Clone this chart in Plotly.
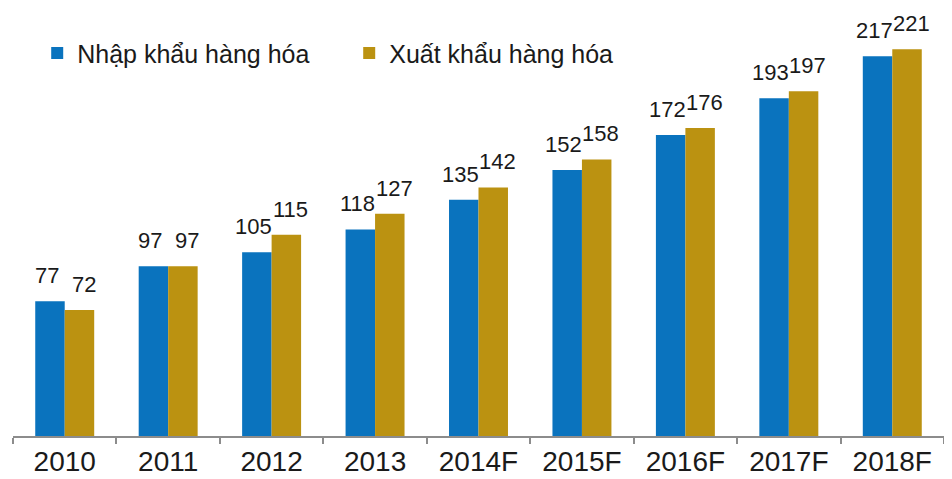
import plotly.graph_objects as go

categories = ["2010", "2011", "2012", "2013", "2014F", "2015F", "2016F", "2017F", "2018F"]
imports = [77, 97, 105, 118, 135, 152, 172, 193, 217]
exports = [72, 97, 115, 127, 142, 158, 176, 197, 221]
series_names = ["Nhập khẩu hàng hóa", "Xuất khẩu hàng hóa"]

FONT = "Liberation Sans, Arial, sans-serif"
BLUE = "#0a73be"
GOLD = "#bb9211"
TXT = "#1a1a1a"

fig = go.Figure()
for name, vals, col in [(series_names[0], imports, BLUE), (series_names[1], exports, GOLD)]:
    fig.add_trace(go.Bar(
        x=categories, y=vals, name=name, marker_color=col, marker_line_width=0,
    ))

# value labels (positioned at category index, shifted onto each bar of the group)
for vals, shift in [(imports, -18), (exports, 19)]:
    for i, v in enumerate(vals):
        fig.add_annotation(x=i, y=v, xref="x", yref="y", text=str(v), showarrow=False,
                           xanchor="center", yanchor="bottom", xshift=shift, yshift=11,
                           font=dict(size=22, family=FONT, color=TXT))

fig.update_layout(
    width=944, height=471,
    margin=dict(l=5, r=8, t=12, b=43, autoexpand=False),
    paper_bgcolor="white", plot_bgcolor="white",
    barmode="group", bargap=0.43, bargroupgap=0,
    font=dict(family=FONT, color=TXT),
    showlegend=True,
    legend=dict(orientation="h", x=0.026, y=0.92, xanchor="left", yanchor="middle",
                font=dict(size=25, family=FONT, color=TXT),
                bgcolor="rgba(0,0,0,0)", itemwidth=30,
                entrywidth=267, entrywidthmode="pixels"),
    xaxis=dict(type="category", categoryorder="array", categoryarray=categories,
               range=[-0.5, len(categories) - 0.5],
               showline=True, linecolor="#8c8c8c", linewidth=1.5,
               automargin=False, tickangle=0,
               ticks="outside", tickson="boundaries", ticklen=6, tickcolor="#8c8c8c",
               tickwidth=1.5, tickfont=dict(size=28, family=FONT, color=TXT),
               showgrid=False, zeroline=False),
    yaxis=dict(visible=False, range=[0, 237.7], showgrid=False, zeroline=False, automargin=False),
)

fig.write_html("out.html")
